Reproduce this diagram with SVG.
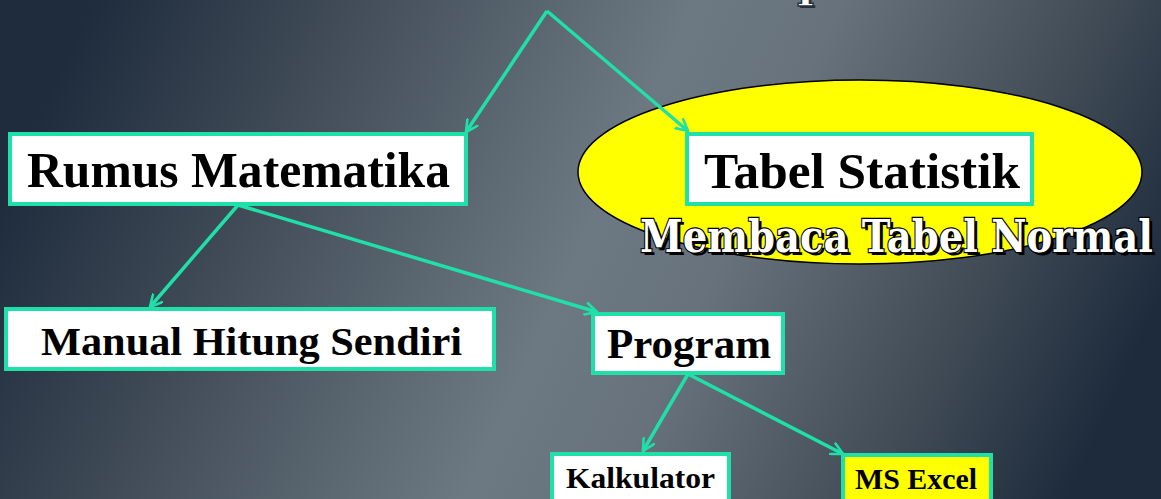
<svg xmlns="http://www.w3.org/2000/svg" width="1161" height="499" viewBox="0 0 1161 499">
  <defs>
    <linearGradient id="bg" x1="0" y1="0.4" x2="1" y2="0.6">
      <stop offset="0" stop-color="#1e2c3d"/>
      <stop offset="0.2" stop-color="#3f4a56"/>
      <stop offset="0.5" stop-color="#6d7982"/>
      <stop offset="0.62" stop-color="#67727c"/>
      <stop offset="0.85" stop-color="#3e4954"/>
      <stop offset="1" stop-color="#1d2b3c"/>
    </linearGradient>
    <marker id="arr" viewBox="0 0 14 14" refX="12.5" refY="7" markerWidth="14" markerHeight="14" markerUnits="userSpaceOnUse" orient="auto">
      <path d="M1,1 L12.5,7 L1,13" fill="none" stroke="#1fe0a8" stroke-width="2.6" stroke-linecap="round" stroke-linejoin="round"/>
    </marker>
    <style>
      .box { fill: #ffffff; stroke: #1fe0a8; stroke-width: 4; }
      .boxy { fill: #ffff00; stroke: #1fe0a8; stroke-width: 4; }
      .lbl { font-family: "Liberation Serif", "DejaVu Serif", serif; font-weight: bold; fill: #000000; }
      .conn { stroke: #1fe0a8; stroke-width: 3.5; fill: none; marker-end: url(#arr); }
      .title { font-family: "DejaVu Serif", "Liberation Serif", serif; font-weight: bold; }
    </style>
  </defs>
  <rect x="0" y="0" width="1161" height="499" fill="url(#bg)"/>

  <g id="title-fragment">
    <text class="title" x="797" y="-4" font-size="46" fill="#000000" opacity="0.6" transform="translate(2,2)">p</text>
    <text class="title" x="797" y="-4" font-size="46" fill="#ffffff" stroke="#2a3440" stroke-width="1.5">p</text>
  </g>

  <g id="node-membaca">
    <ellipse cx="860" cy="172" rx="282" ry="92" fill="#ffff00" stroke="#000000" stroke-width="1.5"/>
  </g>

  <g id="connectors">
    <polyline class="conn" points="547,11 466,132"/>
    <polyline class="conn" points="547,11 688,131"/>
    <polyline class="conn" points="238,205 150,307"/>
    <polyline class="conn" points="238,205 597,312"/>
    <polyline class="conn" points="688,374 643,451"/>
    <polyline class="conn" points="688,374 843,454"/>
  </g>

  <g id="node-rumus">
    <rect class="box" x="10" y="134" width="456" height="70"/>
    <text class="lbl" x="27" y="187" font-size="50" textLength="423" lengthAdjust="spacingAndGlyphs">Rumus Matematika</text>
  </g>

  <g id="node-tabel">
    <rect class="box" x="687" y="134" width="345" height="70"/>
    <text class="lbl" x="704" y="188" font-size="50" textLength="316" lengthAdjust="spacingAndGlyphs">Tabel Statistik</text>
  </g>

  <g id="node-membaca-label">
    <text class="title" x="643" y="255" font-size="44" fill="#000000" textLength="513" lengthAdjust="spacingAndGlyphs">Membaca Tabel Normal</text>
    <text class="title" x="640" y="252" font-size="44" fill="#ffffff" stroke="#000000" stroke-width="2.4" paint-order="stroke" textLength="513" lengthAdjust="spacingAndGlyphs">Membaca Tabel Normal</text>
  </g>

  <g id="node-manual">
    <rect class="box" x="6" y="309" width="488" height="60"/>
    <text class="lbl" x="41" y="355" font-size="40" textLength="421" lengthAdjust="spacingAndGlyphs">Manual Hitung Sendiri</text>
  </g>

  <g id="node-program">
    <rect class="box" x="593" y="314" width="190" height="59"/>
    <text class="lbl" x="607" y="358" font-size="42" textLength="164" lengthAdjust="spacingAndGlyphs">Program</text>
  </g>

  <g id="node-kalkulator">
    <rect class="box" x="552" y="454" width="177" height="60"/>
    <text class="lbl" x="566" y="488" font-size="29" textLength="149" lengthAdjust="spacingAndGlyphs">Kalkulator</text>
  </g>

  <g id="node-msexcel">
    <rect class="boxy" x="843" y="455" width="148" height="60"/>
    <text class="lbl" x="855" y="489" font-size="29" textLength="122" lengthAdjust="spacingAndGlyphs">MS Excel</text>
  </g>
</svg>
